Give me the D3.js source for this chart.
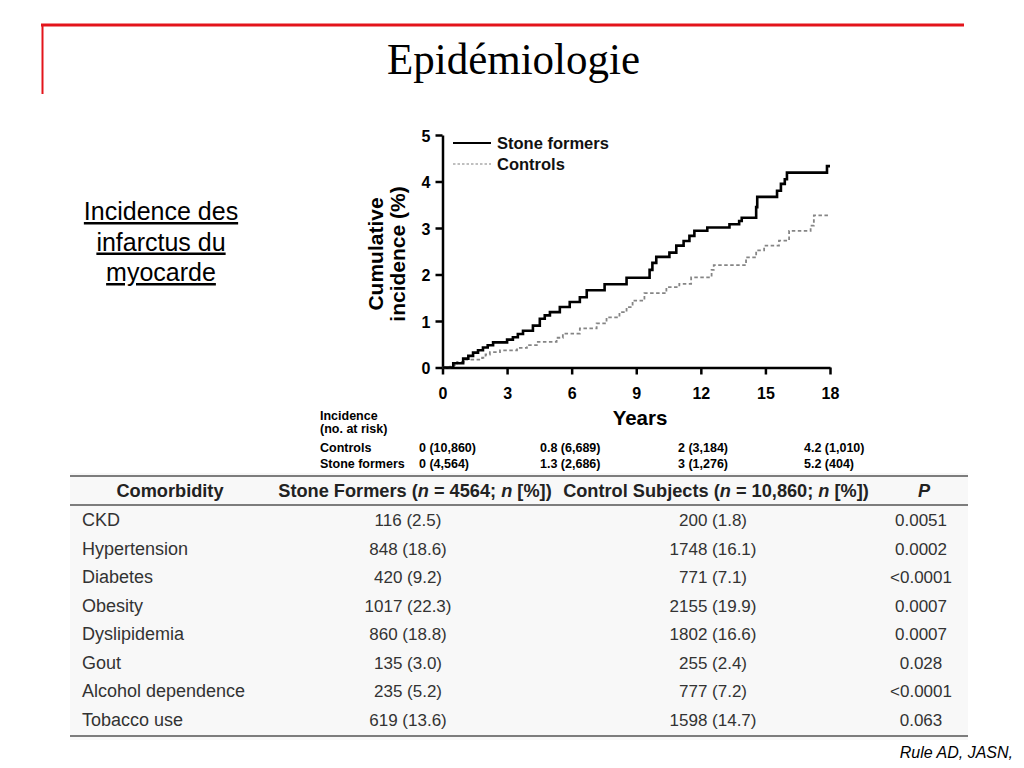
<!DOCTYPE html>
<html>
<head>
<meta charset="utf-8">
<script src="https://cdn.jsdelivr.net/npm/d3@7"></script>
<style>
  body { margin: 0; background: #fff; }
  svg { display: block; }
</style>
</head>
<body>
<div id="chart"></div>
<script>
// Cumulative incidence curves (year, %)
var stoneFormers = [[0,0],[0.5,0.09],[0.96,0.19],[1.2,0.25],[1.42,0.32],[1.65,0.37],[1.88,0.43],[2.1,0.48],[2.35,0.54],[3.0,0.6],[3.27,0.65],[3.5,0.72],[3.74,0.79],[4.2,0.9],[4.52,1.05],[4.75,1.12],[4.99,1.19],[5.45,1.3],[5.91,1.41],[6.38,1.51],[6.7,1.66],[7.53,1.79],[8.55,1.93],[9.62,2.1],[9.75,2.25],[9.93,2.38],[10.54,2.47],[10.86,2.62],[11.2,2.72],[11.47,2.83],[11.7,2.94],[12.3,3.01],[13.33,3.08],[13.78,3.15],[13.9,3.22],[14.57,3.45],[14.62,3.67],[15.54,3.8],[15.72,3.95],[15.9,4.05],[16.0,4.19],[17.86,4.33],[18,4.33]];
var controls = [[0,0],[0.36,0.05],[0.68,0.12],[1.05,0.17],[1.84,0.21],[2.0,0.28],[2.2,0.33],[2.67,0.37],[3.46,0.42],[3.92,0.48],[4.38,0.55],[5.3,0.64],[5.59,0.73],[6.38,0.84],[7.16,0.95],[7.62,1.08],[8.22,1.19],[8.55,1.3],[8.83,1.44],[9.38,1.6],[10.4,1.73],[11.0,1.8],[11.55,1.94],[12.5,2.1],[12.6,2.2],[14.1,2.37],[14.57,2.52],[14.94,2.62],[15.63,2.73],[16.1,2.94],[17.1,3.05],[17.25,3.27],[18,3.27]];
var xTicks = [0, 3, 6, 9, 12, 15, 18];
var yTicks = [0, 1, 2, 3, 4, 5];

// Numbers at risk table under the plot
var riskRows = ["Controls", "Stone formers"];
var riskControls = ["0 (10,860)", "0.8 (6,689)", "2 (3,184)", "4.2 (1,010)"];
var riskStone = ["0 (4,564)", "1.3 (2,686)", "3 (1,276)", "5.2 (404)"];

// Comorbidity table
var comorbidities = ["CKD", "Hypertension", "Diabetes", "Obesity", "Dyslipidemia", "Gout", "Alcohol dependence", "Tobacco use"];
var stoneValues = ["116 (2.5)", "848 (18.6)", "420 (9.2)", "1017 (22.3)", "860 (18.8)", "135 (3.0)", "235 (5.2)", "619 (13.6)"];
var controlValues = ["200 (1.8)", "1748 (16.1)", "771 (7.1)", "2155 (19.9)", "1802 (16.6)", "255 (2.4)", "777 (7.2)", "1598 (14.7)"];
var pValues = ["0.0051", "0.0002", "<0.0001", "0.0007", "0.0007", "0.028", "<0.0001", "0.063"];

var svg = d3.select("#chart").append("svg")
    .attr("width", 1024)
    .attr("height", 768)
    .style("font-family", "'Liberation Sans', Arial, sans-serif");

// Slide frame (red lines)
svg.append("line").attr("x1", 41).attr("x2", 964).attr("y1", 25).attr("y2", 25)
    .attr("stroke", "#e3141b").attr("stroke-width", 3);
svg.append("line").attr("x1", 42.5).attr("x2", 42.5).attr("y1", 24).attr("y2", 94)
    .attr("stroke", "#e3141b").attr("stroke-width", 2);

// Title
svg.append("text")
    .attr("x", 387).attr("y", 74)
    .style("font-family", "'Liberation Serif', 'Times New Roman', serif")
    .attr("font-size", "45px")
    .attr("textLength", 253)
    .attr("lengthAdjust", "spacingAndGlyphs")
    .attr("fill", "#000")
    .text("Epidémiologie");

// Side caption
["Incidence des", "infarctus du", "myocarde"].forEach(function(t, i) {
    svg.append("text")
        .attr("x", 161).attr("y", 220 + i * 30.5)
        .attr("text-anchor", "middle")
        .attr("font-size", "25px")
        .attr("text-decoration", "underline")
        .attr("fill", "#000")
        .text(t);
});

// Plot area
var x0 = 442.5, x1 = 830, y0 = 367.5, y1 = 135;
var xScale = d3.scaleLinear().domain([0, 18]).range([x0, x1]);
var yScale = d3.scaleLinear().domain([0, 5]).range([y0, y1]);

var xAxis = svg.append("g")
    .attr("transform", "translate(0," + y0 + ")")
    .call(d3.axisBottom(xScale).tickValues(xTicks).tickSize(7).tickPadding(13).tickSizeOuter(0));
var yAxis = svg.append("g")
    .attr("transform", "translate(" + x0 + ",0)")
    .call(d3.axisLeft(yScale).tickValues(yTicks).tickFormat(d3.format("d")).tickSize(7).tickPadding(5).tickSizeOuter(0));

[xAxis, yAxis].forEach(function(a) {
    a.select(".domain").attr("stroke", "#000").attr("stroke-width", 2.5);
    a.selectAll(".tick line").attr("stroke", "#000").attr("stroke-width", 2.5);
    a.selectAll(".tick text")
        .attr("fill", "#000")
        .attr("font-size", "16px")
        .attr("font-weight", "bold")
        .style("font-family", "'Liberation Sans', Arial, sans-serif");
});
yAxis.selectAll(".tick text").attr("dy", "0.4em");

// Axis titles
svg.append("text")
    .attr("x", 640).attr("y", 425)
    .attr("text-anchor", "middle")
    .attr("font-size", "20.5px").attr("font-weight", "bold")
    .text("Years");
["Cumulative", "incidence (%)"].forEach(function(t, i) {
    svg.append("text")
        .attr("transform", "translate(" + (383 + i * 22) + ",254) rotate(-90)")
        .attr("text-anchor", "middle")
        .attr("font-size", "21px").attr("font-weight", "bold")
        .text(t);
});

// Curves
var line = d3.line()
    .x(function(d) { return xScale(d[0]); })
    .y(function(d) { return yScale(d[1]); })
    .curve(d3.curveStepAfter);

svg.append("path").datum(controls)
    .attr("d", line)
    .attr("fill", "none")
    .attr("stroke", "#858585")
    .attr("stroke-width", 1.8)
    .attr("stroke-dasharray", "3.5,2.5");

svg.append("path").datum(stoneFormers)
    .attr("d", line)
    .attr("fill", "none")
    .attr("stroke", "#000")
    .attr("stroke-width", 2.6);

// Legend
svg.append("line").attr("x1", 453).attr("x2", 491).attr("y1", 143).attr("y2", 143)
    .attr("stroke", "#000").attr("stroke-width", 2.2);
svg.append("line").attr("x1", 453).attr("x2", 491).attr("y1", 164).attr("y2", 164)
    .attr("stroke", "#808080").attr("stroke-width", 1.2).attr("stroke-dasharray", "2.5,2");
svg.append("text").attr("x", 497).attr("y", 148.5)
    .attr("font-size", "16.5px").attr("font-weight", "bold").attr("fill", "#111")
    .text("Stone formers");
svg.append("text").attr("x", 497).attr("y", 169.5)
    .attr("font-size", "16.5px").attr("font-weight", "bold").attr("fill", "#111")
    .text("Controls");

// Numbers at risk
var riskX = [419, 540, 678, 804];
svg.append("text").attr("x", 320).attr("y", 420)
    .attr("font-size", "12.5px").attr("font-weight", "bold").text("Incidence");
svg.append("text").attr("x", 320).attr("y", 433)
    .attr("font-size", "12.5px").attr("font-weight", "bold").text("(no. at risk)");
[riskControls, riskStone].forEach(function(vals, r) {
    var yy = 452 + r * 16;
    svg.append("text").attr("x", 320).attr("y", yy)
        .attr("font-size", "12.5px").attr("font-weight", "bold").text(riskRows[r]);
    svg.selectAll(null).data(vals).enter().append("text")
        .attr("x", function(d, i) { return riskX[i]; })
        .attr("y", yy)
        .attr("font-size", "12.5px").attr("font-weight", "bold")
        .text(function(d) { return d; });
});

// Comorbidity table
svg.append("rect").attr("x", 70).attr("y", 473).attr("width", 898).attr("height", 267)
    .attr("fill", "#f8f8f8");
svg.append("line").attr("x1", 70).attr("x2", 968).attr("y1", 476).attr("y2", 476)
    .attr("stroke", "#555").attr("stroke-width", 1.5);
svg.append("line").attr("x1", 70).attr("x2", 968).attr("y1", 505).attr("y2", 505)
    .attr("stroke", "#555").attr("stroke-width", 1.5);
svg.append("line").attr("x1", 70).attr("x2", 968).attr("y1", 736).attr("y2", 736)
    .attr("stroke", "#555").attr("stroke-width", 1.5);

var colX = [170, 415, 716, 924];
var header = svg.append("g").attr("font-size", "18.2px").attr("font-weight", "bold").attr("fill", "#222");
header.append("text").attr("x", colX[0]).attr("y", 497).attr("text-anchor", "middle").text("Comorbidity");
var h2 = header.append("text").attr("x", colX[1]).attr("y", 497).attr("text-anchor", "middle");
h2.append("tspan").text("Stone Formers (");
h2.append("tspan").attr("font-style", "italic").text("n");
h2.append("tspan").text(" = 4564; ");
h2.append("tspan").attr("font-style", "italic").text("n");
h2.append("tspan").text(" [%])");
var h3 = header.append("text").attr("x", colX[2]).attr("y", 497).attr("text-anchor", "middle");
h3.append("tspan").text("Control Subjects (");
h3.append("tspan").attr("font-style", "italic").text("n");
h3.append("tspan").text(" = 10,860; ");
h3.append("tspan").attr("font-style", "italic").text("n");
h3.append("tspan").text(" [%])");
header.append("text").attr("x", colX[3]).attr("y", 497).attr("text-anchor", "middle")
    .attr("font-style", "italic").text("P");

var rowY = d3.scaleLinear().domain([0, 7]).range([526, 726]);
var rows = svg.append("g").attr("fill", "#333");
rows.selectAll(".name").data(comorbidities).enter().append("text")
    .attr("x", 82).attr("y", function(d, i) { return rowY(i); })
    .attr("font-size", "18px")
    .text(function(d) { return d; });
rows.selectAll(".sf").data(stoneValues).enter().append("text")
    .attr("x", 408).attr("y", function(d, i) { return rowY(i); })
    .attr("text-anchor", "middle")
    .attr("font-size", "17px")
    .text(function(d) { return d; });
rows.selectAll(".cs").data(controlValues).enter().append("text")
    .attr("x", 713).attr("y", function(d, i) { return rowY(i); })
    .attr("text-anchor", "middle")
    .attr("font-size", "17px")
    .text(function(d) { return d; });
rows.selectAll(".p").data(pValues).enter().append("text")
    .attr("x", 921).attr("y", function(d, i) { return rowY(i); })
    .attr("text-anchor", "middle")
    .attr("font-size", "17px")
    .text(function(d) { return d; });

// Source
svg.append("text").attr("x", 1013).attr("y", 758)
    .attr("text-anchor", "end")
    .attr("font-size", "16px").attr("font-style", "italic")
    .text("Rule AD, JASN,");
</script>
</body>
</html>
